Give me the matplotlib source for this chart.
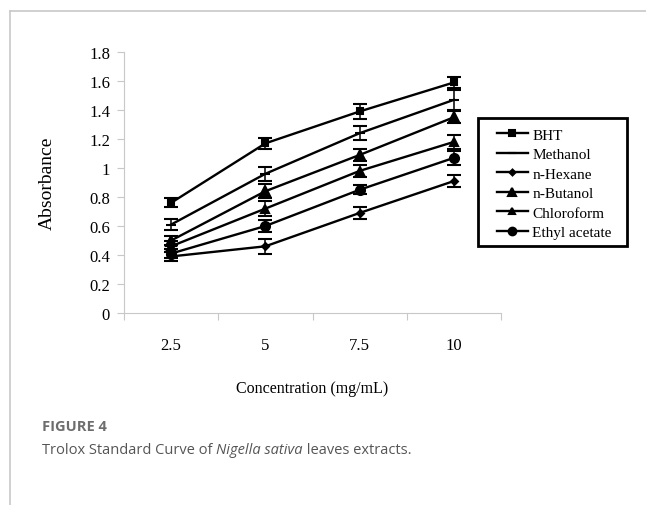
#!/usr/bin/env python3
"""Trolox standard curve of Nigella sativa leaves extracts."""

import matplotlib

matplotlib.use("Agg")
import matplotlib.pyplot as plt
import numpy as np
from matplotlib.lines import Line2D
from matplotlib.patches import Rectangle

concentrations = ["2.5", "5", "7.5", "10"]

bht = [0.76, 1.17, 1.39, 1.59]
bht_err = [0.03, 0.04, 0.05, 0.04]
methanol = [0.61, 0.96, 1.24, 1.47]
methanol_err = [0.04, 0.05, 0.05, 0.07]
hexane = [0.39, 0.46, 0.69, 0.91]
hexane_err = [0.03, 0.05, 0.04, 0.04]
butanol = [0.50, 0.84, 1.09, 1.35]
butanol_err = [0.03, 0.05, 0.04, 0.04]
chloroform = [0.46, 0.72, 0.98, 1.18]
chloroform_err = [0.04, 0.05, 0.04, 0.05]
ethyl = [0.41, 0.60, 0.85, 1.07]
ethyl_err = [0.03, 0.04, 0.03, 0.05]

serif = ["Liberation Serif", "DejaVu Serif"]
W, H = 646, 506

fig = plt.figure(figsize=(6.46, 5.06), dpi=100)
ax = fig.add_axes([124 / W, 1 - 314 / H, 377 / W, 261 / H])

x = np.arange(len(concentrations))
series = [
    ("BHT", bht, bht_err, "s", 4.5),
    ("Methanol", methanol, methanol_err, "_", 7),
    ("n-Hexane", hexane, hexane_err, "D", 3.5),
    ("n-Butanol", butanol, butanol_err, "^", 7.5),
    ("Chloroform", chloroform, chloroform_err, "^", 5.5),
    ("Ethyl acetate", ethyl, ethyl_err, "o", 6.5),
]
handles = []
for name, vals, err, mk, ms in series:
    ax.errorbar(x, vals, yerr=err, color="black", lw=1.7, marker=mk, ms=ms,
                mew=1.5, capsize=5, capthick=1.1, elinewidth=1.1)
    handles.append(Line2D([], [], color="black", lw=1.7, marker=mk,
                          ms=ms * 0.85, mew=1.5, label=name))

ax.set_xlim(-0.5, len(concentrations) - 0.5)
ax.set_ylim(0, 1.8)
ax.set_yticks(np.arange(0, 1.81, 0.2))
ax.set_yticklabels(["0", "0.2", "0.4", "0.6", "0.8", "1", "1.2", "1.4",
                    "1.6", "1.8"], fontfamily=serif, fontsize=12)
ax.set_xticks(np.arange(-0.5, len(concentrations), 1.0))
ax.set_xticklabels([])
ax.set_xticks(x, minor=True)
ax.set_xticklabels(concentrations, minor=True, fontfamily=serif, fontsize=12)
ax.tick_params(axis="x", which="minor", length=0, pad=17)
ax.tick_params(axis="both", which="major", length=5, color="#c8c8c8",
               direction="out")
ax.tick_params(axis="y", pad=5)
for side in ("top", "right"):
    ax.spines[side].set_visible(False)
for side in ("left", "bottom"):
    ax.spines[side].set_color("#c8c8c8")

ax.set_ylabel("Absorbance", fontfamily=serif, fontsize=14, labelpad=24)
ax.set_xlabel("Concentration (mg/mL)", fontfamily=serif, fontsize=11.5,
              labelpad=20)

# legend box drawn separately so it can be padded like the original
fig.add_artist(Rectangle((478 / W, 1 - 247 / H), 149 / W, 128 / H,
                         transform=fig.transFigure, fill=False,
                         edgecolor="black", lw=2))
fig.legend(handles=handles, loc="upper left",
           bbox_to_anchor=(497 / W, 1 - 129 / H), borderaxespad=0,
           borderpad=0, prop={"family": serif, "size": 11}, frameon=False,
           handlelength=2.0, handletextpad=0.3, labelspacing=0.38)

# frame lines of the page
fig.add_artist(Line2D([10 / W, 10 / W], [0, 1 - 12 / H],
                      color="#c8c8c8", lw=1.2))
fig.add_artist(Line2D([10 / W, 1], [1 - 12 / H, 1 - 12 / H],
                      color="#c8c8c8", lw=1.2))

fig.text(42 / W, 1 - 427 / H, "FIGURE 4", fontfamily="Open Sans",
         fontweight="bold", fontsize=10.5, color="#6d6d6d", va="center")
t1 = fig.text(42 / W, 1 - 454 / H, "Trolox Standard Curve of ",
              fontfamily="Open Sans", fontsize=10.5, color="#555555",
              va="baseline")
t2 = ax.annotate("Nigella sativa", xy=(1, 0), xycoords=t1,
                 fontfamily="Open Sans", fontstyle="italic", fontsize=10.5,
                 color="#555555", va="bottom")
ax.annotate(" leaves extracts.", xy=(1, 0), xycoords=t2,
            fontfamily="Open Sans", fontsize=10.5, color="#555555",
            va="bottom")

fig.savefig("out.png", dpi=100)
